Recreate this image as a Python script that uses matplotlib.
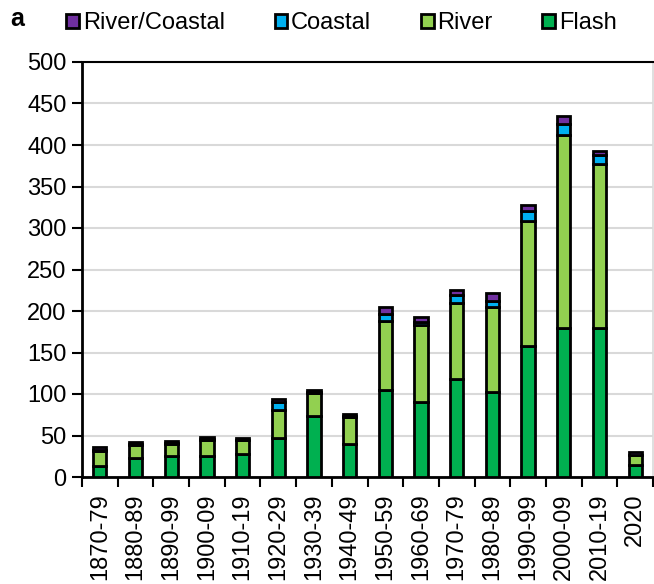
import matplotlib.pyplot as plt
import numpy as np

plt.rcParams['font.family'] = ['Liberation Sans', 'DejaVu Sans']

decades = ['1870-79', '1880-89', '1890-99', '1900-09', '1910-19', '1920-29',
           '1930-39', '1940-49', '1950-59', '1960-69', '1970-79', '1980-89',
           '1990-99', '2000-09', '2010-19', '2020']
flash = [13, 23, 25, 25, 28, 47, 73, 40, 105, 90, 118, 102, 158, 180, 180, 14]
river = [18, 16, 15, 19, 16, 34, 28, 32, 83, 93, 92, 103, 151, 232, 197, 12]
coastal = [2, 1, 1, 2, 1, 9, 1, 1, 8, 4, 9, 7, 11, 13, 11, 1]
river_coastal = [3, 2, 2, 2, 2, 4, 3, 3, 9, 6, 6, 10, 8, 10, 5, 3]

colors = {'Flash': '#00B050', 'River': '#92D050',
          'Coastal': '#00B0F0', 'River/Coastal': '#7030A0'}

fig = plt.figure(figsize=(6.54, 5.84), dpi=100)
# axes spans from the y axis (x=82 px) to the right edge, y from 477 to 62 px
ax = fig.add_axes([82 / 654, 1 - 477 / 584, 571 / 654, 415 / 584])

x = np.arange(len(decades))
bottom = np.zeros(len(decades))
handles = {}
for name, vals in [('Flash', flash), ('River', river),
                   ('Coastal', coastal), ('River/Coastal', river_coastal)]:
    b = ax.bar(x, vals, 0.37, bottom=bottom, color=colors[name],
               edgecolor='black', linewidth=2, label=name, zorder=3)
    handles[name] = b
    bottom += np.array(vals)

ax.set_ylim(0, 500)
ax.set_xlim(-0.5, len(decades) - 0.5)
ax.set_yticks(range(0, 501, 50))
ax.yaxis.grid(True, color='#D9D9D9', linewidth=1.5, zorder=0)
ax.set_axisbelow(True)

ax.set_xticks(x)
ax.set_xticklabels(decades, rotation=90, fontsize=17)
ax.set_xticks(np.arange(-0.5, len(decades), 1), minor=True)
ax.tick_params(axis='x', which='major', length=0, pad=12)
ax.tick_params(axis='x', which='minor', length=7, width=1.5, direction='out')
ax.tick_params(axis='y', labelsize=17, length=7, width=1.5, direction='out',
               pad=4)

ax.spines['right'].set_color('#D9D9D9')
ax.spines['right'].set_linewidth(1.2)
ax.spines['top'].set_linewidth(1.5)
for s in ['left', 'bottom']:
    ax.spines[s].set_linewidth(2)

order = ['River/Coastal', 'Coastal', 'River', 'Flash']
fig.legend([handles[k] for k in order], order, loc='center',
           bbox_to_anchor=(0.522, 0.96), ncol=4, frameon=False,
           fontsize=17, handlelength=0.55, handleheight=0.55,
           handletextpad=0.15, columnspacing=2.1)

fig.text(0.016, 0.968, 'a', fontsize=18, fontweight='bold', va='center')

fig.savefig('out.png', dpi=100)
